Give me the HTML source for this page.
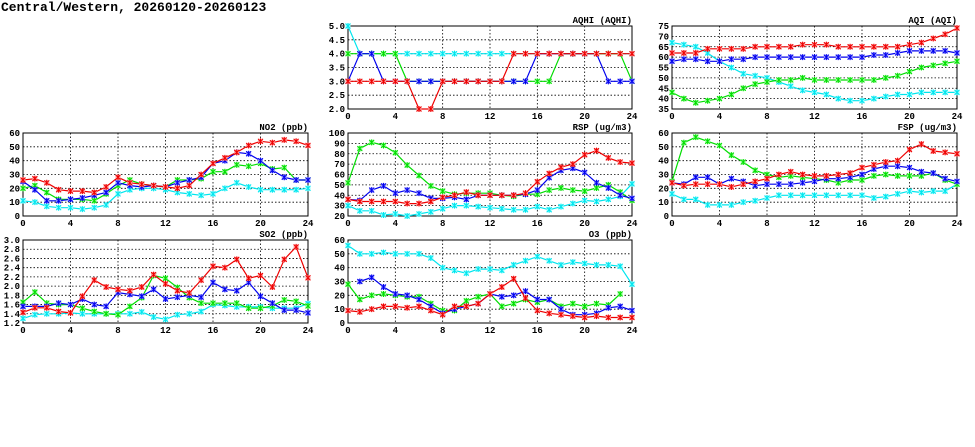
<!DOCTYPE html>
<html><head><meta charset="utf-8"><style>
body{margin:0;background:#fff;width:975px;height:447px;overflow:hidden}
svg{position:absolute;left:0;top:0}
text{font-family:"Liberation Mono",monospace;font-weight:bold;font-size:9px;fill:#000}
</style></head><body>
<svg id="s" width="975" height="447" xmlns="http://www.w3.org/2000/svg">
<text x="1" y="11" style="font-size:13px">Central/Western, 20260120-20260123</text>
</svg>
<script>
var N=null;
var P=[
{t:"AQHI (AQHI)",x0:348,x1:632,y0:26,y1:109,lo:2,hi:5,st:0.5,fmt:1,s:{
c:[5,4,4,4,4,4,4,4,4,4,4,4,4,4,4,4,4,4,4,4,4,4,4,4,4],
b:[3,4,4,3,3,3,3,3,3,3,3,3,3,3,3,3,4,4,4,4,4,4,3,3,3],
g:[4,4,4,4,4,3,3,3,3,3,3,3,3,3,3,3,3,3,4,4,4,4,4,4,3],
r:[3,3,3,3,3,3,2,2,3,3,3,3,3,3,4,4,4,4,4,4,4,4,4,4,4]}},
{t:"AQI (AQI)",x0:672,x1:957,y0:26,y1:109,lo:35,hi:75,st:5,fmt:0,s:{
c:[67,66,65,62,58,55,52,51,50,48,46,44,43,42,40,39,39,40,41,42,42,43,43,43,43],
g:[43,40,38,39,40,42,45,47,48,49,49,50,49,49,49,49,49,49,50,51,53,55,56,57,58],
b:[58,59,59,58,58,59,59,60,60,60,60,60,60,60,60,60,60,61,61,62,63,63,63,63,62],
r:[62,62,62,64,64,64,64,65,65,65,65,66,66,66,65,65,65,65,65,65,66,67,69,71,74]}},
{t:"NO2 (ppb)",x0:23,x1:308,y0:133,y1:216,lo:0,hi:60,st:10,fmt:0,s:{
c:[11,10,7,6,6,5,6,8,16,19,20,20,19,17,16,15,16,20,24,21,19,19,19,19,20],
g:[20,22,17,12,12,12,11,16,22,26,23,22,21,26,26,27,32,32,37,36,38,34,35,26,26],
b:[25,19,11,11,12,13,15,17,24,22,21,22,21,24,26,28,38,40,46,45,40,33,28,26,26],
r:[26,27,24,19,18,18,17,21,28,24,23,22,21,20,22,30,38,42,46,51,54,53,55,54,51]}},
{t:"RSP (ug/m3)",x0:348,x1:632,y0:133,y1:216,lo:20,hi:100,st:10,fmt:0,s:{
c:[30,25,25,21,22,20,22,24,27,30,30,29,28,27,26,26,29,26,29,32,35,34,36,39,51],
g:[52,85,91,88,81,69,59,49,44,41,42,42,42,40,39,41,41,45,47,45,44,47,50,43,35],
b:[36,35,45,49,42,45,42,37,37,38,36,40,40,40,40,41,45,57,64,66,62,52,47,40,37],
r:[36,34,34,34,34,32,32,34,38,40,43,40,40,40,40,42,53,61,67,70,79,83,76,72,71]}},
{t:"FSP (ug/m3)",x0:672,x1:957,y0:133,y1:216,lo:0,hi:60,st:10,fmt:0,s:{
c:[16,12,12,8,8,8,10,11,13,15,15,15,15,15,15,15,15,13,14,16,18,17,18,18,23],
g:[25,53,57,54,51,44,39,33,30,28,29,28,27,26,24,26,26,29,30,29,29,29,31,26,23],
b:[24,23,28,28,23,27,25,22,23,23,23,24,25,27,27,28,30,34,36,36,35,32,31,27,25],
r:[24,22,23,23,23,21,23,25,27,30,32,30,29,29,30,31,35,37,39,40,48,52,47,46,45]}},
{t:"SO2 (ppb)",x0:23,x1:308,y0:240,y1:323,lo:1.2,hi:3.0,st:0.2,fmt:1,s:{
c:[1.30,1.38,1.40,1.40,1.42,1.40,1.40,1.40,1.40,1.40,1.44,1.33,1.28,1.38,1.40,1.45,1.60,1.58,1.55,1.55,1.55,1.52,1.52,1.52,1.62],
g:[1.65,1.87,1.63,1.60,1.60,1.52,1.45,1.40,1.38,1.56,1.75,2.23,2.17,1.97,1.75,1.63,1.63,1.63,1.63,1.52,1.52,1.57,1.70,1.67,1.57],
b:[1.56,1.56,1.56,1.63,1.60,1.72,1.60,1.56,1.86,1.82,1.78,1.93,1.72,1.76,1.80,1.76,2.08,1.93,1.90,2.08,1.78,1.63,1.48,1.48,1.42],
r:[1.43,1.53,1.53,1.45,1.42,1.78,2.13,1.98,1.93,1.90,1.98,2.25,2.05,1.90,1.85,2.13,2.43,2.40,2.58,2.17,2.23,1.98,2.58,2.85,2.18]}},
{t:"O3 (ppb)",x0:348,x1:632,y0:240,y1:323,lo:0,hi:60,st:10,fmt:0,s:{
c:[56,50,50,51,50,50,50,47,40,38,36,39,39,38,42,45,48,45,42,44,43,42,42,41,28],
g:[28,17,20,21,20,19,19,14,9,9,16,19,21,12,14,17,15,17,12,14,12,14,13,21,N],
b:[N,30,33,26,21,20,17,12,7,10,12,14,21,19,20,23,17,17,10,6,6,7,11,12,9],
r:[9,8,10,12,12,11,12,9,6,12,12,14,21,26,32,18,9,7,6,5,4,5,4,4,4]}}
];
var col={c:["#00e5ee","#9ff"],g:["#00dd00","#9f9"],b:["#0000ee","#99f"],r:["#ee0000","#f99"]};
var h='';
P.forEach(function(p){
 var W=p.x1-p.x0,H=p.y1-p.y0;
 function X(i){return p.x0+W*i/24}
 function Y(v){return p.y1-H*(v-p.lo)/(p.hi-p.lo)}
 var n=Math.round((p.hi-p.lo)/p.st);
 for(var k=0;k<=n;k++){var v=p.lo+k*p.st,y=Y(v);
  if(k>0&&k<n)h+='<line x1="'+p.x0+'" x2="'+p.x1+'" y1="'+y+'" y2="'+y+'" stroke="#000" stroke-width="0.8" stroke-dasharray="1.5,2"/>';
  h+='<text x="'+(p.x0-3)+'" y="'+(y+3)+'" text-anchor="end">'+v.toFixed(p.fmt)+'</text>';}
 for(var i=0;i<=24;i+=4){var x=X(i);
  if(i>0&&i<24)h+='<line x1="'+x+'" x2="'+x+'" y1="'+p.y0+'" y2="'+p.y1+'" stroke="#000" stroke-width="0.8" stroke-dasharray="1.5,2"/>';
  h+='<text x="'+x+'" y="'+(p.y1+10)+'" text-anchor="middle">'+i+'</text>';}
 h+='<rect x="'+p.x0+'" y="'+p.y0+'" width="'+W+'" height="'+H+'" fill="none" stroke="#000" stroke-width="1"/>';
 h+='<text x="'+p.x1+'" y="'+(p.y0-3)+'" text-anchor="end">'+p.t+'</text>';
 ["c","g","b","r"].forEach(function(k){
  var d=p.s[k],pts=[],m='';
  d.forEach(function(v,i){if(v===null)return;var x=X(i),y=Y(v);pts.push(x.toFixed(1)+','+y.toFixed(1));
   m+='<rect x="'+(x-2.5)+'" y="'+(y-2.5)+'" width="5" height="5" fill="'+col[k][1]+'"/><path d="M'+(x-2.5)+' '+(y-2.5)+'L'+(x+2.5)+' '+(y+2.5)+'M'+(x+2.5)+' '+(y-2.5)+'L'+(x-2.5)+' '+(y+2.5)+'M'+x+' '+(y-3)+'V'+(y+3)+'" stroke="'+col[k][0]+'" stroke-width="1"/>';});
  h+='<polyline points="'+pts.join(' ')+'" fill="none" stroke="'+col[k][0]+'" stroke-width="1.2"/>'+m;
 });
});
document.getElementById('s').insertAdjacentHTML('beforeend',h);
</script>
</body></html>
